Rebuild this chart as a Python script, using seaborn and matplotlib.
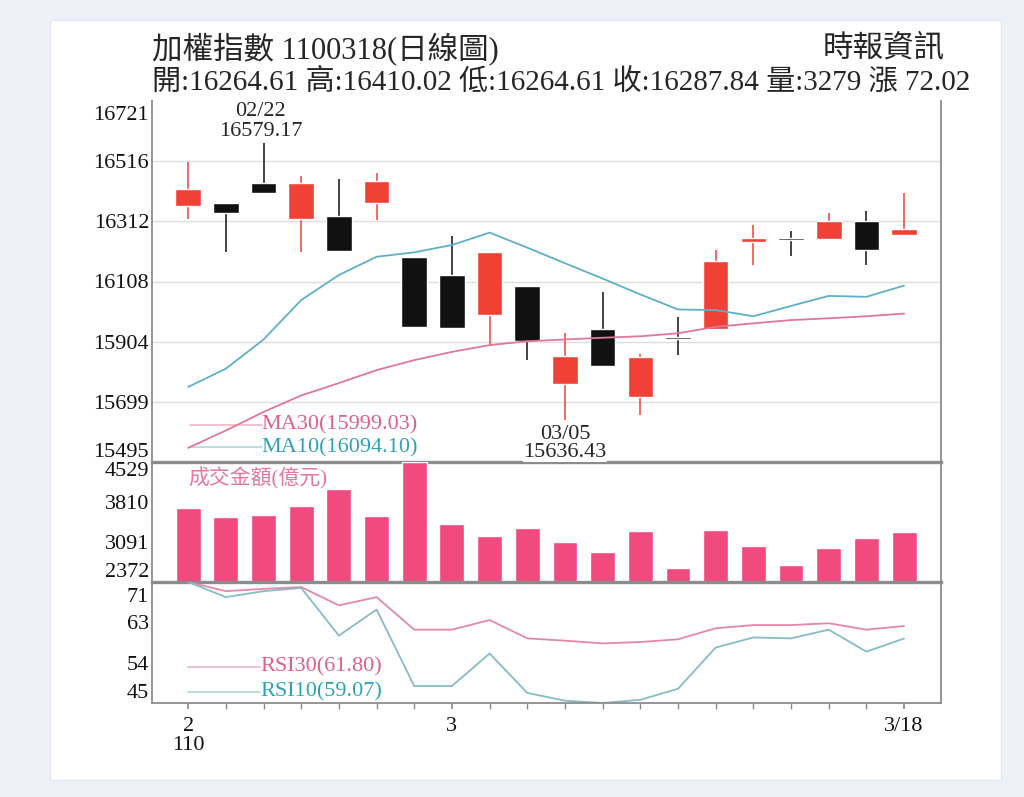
import numpy as np
import matplotlib
matplotlib.use('Agg')
import matplotlib.pyplot as plt
import matplotlib.transforms as mtransforms
import seaborn as sns
from matplotlib.patches import Rectangle

# daily candles, 2021/02/18 .. 2021/03/18 (ROC year 110)
days = list(range(20))
opens = [16366, 16376, 16444, 16321, 16329, 16376, 16190, 16130, 15994, 16093,
         15761, 15945, 15716, 15920, 15946, 16243, 16255, 16253, 16312, 16264.61]
closes = [16423, 16341, 16410, 16442, 16213, 16451, 15952, 15949, 16209, 15905,
          15855, 15820, 15852, 15912, 16179, 16256, 16249, 16312, 16215.82, 16287.84]
highs = [16513, 16376, 16579.17, 16467, 16456, 16476, 16190, 16261, 16209, 16093,
         15934, 16073, 15863, 15988, 16215, 16300, 16281, 16342, 16348, 16410.02]
lows = [16321, 16209, 16410, 16209, 16213, 16317, 15952, 15949, 15892, 15841,
        15636.43, 15820, 15653, 15858, 15946, 16164, 16193, 16253, 16164, 16264.61]

ma10 = [15750, 15812, 15911, 16045, 16130, 16192, 16207, 16232, 16274, 16223,
        16170, 16118, 16064, 16013, 16011, 15990, 16025, 16059, 16056, 16094.10]
ma30 = [15543, 15602, 15665, 15721, 15763, 15807, 15841, 15869, 15892, 15905,
        15911, 15917, 15922, 15932, 15954, 15966, 15977, 15983, 15990, 15999.03]

# turnover (100 million NTD)
volume = [3702, 3540, 3576, 3738, 4044, 3558, 4529, 3415, 3199, 3348,
          3096, 2906, 3283, 2618, 3307, 3024, 2672, 2978, 3168, 3279]

rsi30 = [71.4, 69.4, 69.9, 70.3, 66.3, 68.1, 61.0, 61.0, 63.1, 59.1,
         58.6, 58.0, 58.3, 58.9, 61.3, 62.0, 62.0, 62.4, 61.0, 61.80]
rsi10 = [71.4, 68.1, 69.4, 70.1, 59.7, 65.4, 48.7, 48.7, 55.8, 47.2,
         45.5, 45.0, 45.7, 48.1, 57.1, 59.3, 59.1, 61.0, 56.2, 59.07]

price_labels = ['15495', '15699', '15904', '16108', '16312', '16516', '16721']
vol_labels = ['2372', '3091', '3810', '4529']
rsi_labels = ['45', '54', '63', '71']
x_labels = ['2\n110', '3', '3/18']
x_label_pos = [0, 7, 19]

RED = '#ef4136'
BLACK = '#111111'
PINK = '#e0608a'
TEAL = '#2fa3b6'
GRID = '#8c8c8c'

sns.set_theme(style='white')
plt.rcParams['font.family'] = ['Liberation Serif', 'Noto Sans CJK TC']
plt.rcParams['axes.unicode_minus'] = False

fig = plt.figure(figsize=(10.24, 7.97), dpi=100, facecolor='#edf1f7')
fig.patches.append(Rectangle((50 / 1024, 1 - 780 / 797), 951 / 1024, 760 / 797,
                             transform=fig.transFigure, facecolor='white',
                             edgecolor='#e4e8ef', zorder=-1))


def fy(py):
    return 1 - py / 797


L, R = 152 / 1024, 941 / 1024
ax_p = fig.add_axes([L, fy(462), R - L, fy(101) - fy(462)])
ax_v = fig.add_axes([L, fy(582), R - L, fy(462) - fy(582)])
ax_r = fig.add_axes([L, fy(703), R - L, fy(582) - fy(703)])
ax_v.set_facecolor('none')
ax_r.set_facecolor('none')

xlim = (-0.96, 19.98)

# ---- price panel
pt = np.linspace(15495, 16721, 7)
for y in pt[1:-1]:
    ax_p.axhline(y, color='#dedede', lw=1, zorder=0)

colors = [RED if c >= o else BLACK for o, c in zip(opens, closes)]
body_lo = np.minimum(opens, closes)
body_h = np.maximum(np.abs(np.array(closes) - np.array(opens)), 6)
ax_p.vlines(days, lows, highs, colors=colors, linewidth=1.1, zorder=2)
ax_p.bar(days, body_h, bottom=body_lo, width=0.68, color=colors, zorder=3)

sns.lineplot(x=days, y=ma10, ax=ax_p, color='#5fb0c6', linewidth=1.3, zorder=4)
sns.lineplot(x=days, y=ma30, ax=ax_p, color='#e07896', linewidth=1.3, zorder=4)

ax_p.plot([0.048, 0.139], [0.103, 0.103], transform=ax_p.transAxes, color='#ebb7c6', lw=1.2)
ax_p.plot([0.048, 0.139], [0.042, 0.042], transform=ax_p.transAxes, color='#b5d5dc', lw=1.2)
ax_p.text(0.139, 0.103, f'MA30({ma30[-1]:.2f})', transform=ax_p.transAxes,
          color=PINK, fontsize=16, va='center', ha='left')
ax_p.text(0.139, 0.040, f'MA10({ma10[-1]:.2f})', transform=ax_p.transAxes,
          color=TEAL, fontsize=16, va='center', ha='left')

hi_i = int(np.argmax(highs))
lo_i = int(np.argmin(lows))
ax_p.annotate(f'02/22\n{highs[hi_i]:.2f}', xy=(days[hi_i], highs[hi_i]), xytext=(-2, 1),
              textcoords='offset points', ha='center', va='bottom', fontsize=16,
              linespacing=1.1, annotation_clip=False, zorder=6)
ax_p.annotate(f'03/05\n{lows[lo_i]:.2f}', xy=(days[lo_i], lows[lo_i]), xytext=(0, -3),
              textcoords='offset points', ha='center', va='top', fontsize=16,
              linespacing=0.95, annotation_clip=False, zorder=6,
              bbox=dict(facecolor='white', edgecolor='none', pad=0))

ax_p.set_ylim(15495, 16721)
ax_p.set_yticks(pt)
ax_p.set_yticklabels(price_labels)

# ---- turnover panel
sns.barplot(x=days, y=volume, ax=ax_v, color='#f04a7e', width=0.66, saturation=1,
            native_scale=True, errorbar=None)
ax_v.set_ylim(2372, 4529)
ax_v.set_yticks(np.linspace(2372, 4529, 4))
ax_v.set_yticklabels(vol_labels)
ax_v.text(0.046, 0.86, '成交金額(億元)', transform=ax_v.transAxes, color=PINK,
          fontsize=15, va='center', ha='left', alpha=0.85)

# ---- RSI panel
sns.lineplot(x=days, y=rsi30, ax=ax_r, color='#e28aa4', linewidth=1.3)
sns.lineplot(x=days, y=rsi10, ax=ax_r, color='#86bcc6', linewidth=1.3)
ax_r.plot([0.046, 0.137], [0.30, 0.30], transform=ax_r.transAxes, color='#ebb7c6', lw=1.2)
ax_r.plot([0.046, 0.137], [0.092, 0.092], transform=ax_r.transAxes, color='#b5d5dc', lw=1.2)
ax_r.text(0.137, 0.30, f'RSI30({rsi30[-1]:.2f})', transform=ax_r.transAxes,
          color=PINK, fontsize=16, va='center', ha='left')
ax_r.text(0.137, 0.092, f'RSI10({rsi10[-1]:.2f})', transform=ax_r.transAxes,
          color=TEAL, fontsize=16, va='center', ha='left')
ax_r.set_ylim(45, 71.4)
ax_r.set_yticks(np.linspace(45, 71.4, 4))
ax_r.set_yticklabels(rsi_labels)

# ---- shared styling
top_shift = {ax_p: 5, ax_v: 0, ax_r: 6}
for ax in (ax_p, ax_v, ax_r):
    ax.set_xlim(*xlim)
    ax.set_xlabel('')
    ax.set_ylabel('')
    ax.spines['top'].set_visible(False)
    for s in ('left', 'right', 'bottom'):
        ax.spines[s].set_color(GRID)
        ax.spines[s].set_linewidth(1.3)
    ax.tick_params(axis='y', length=0, pad=2, labelsize=16, colors='#111111')
    labels = ax.get_yticklabels()
    labels[0].set_va('bottom')
    labels[-1].set_va('top')
    shift = mtransforms.ScaledTranslation(0, -top_shift[ax] / 100, fig.dpi_scale_trans)
    labels[-1].set_transform(labels[-1].get_transform() + shift)

ax_p.spines['bottom'].set_linewidth(2.4)
ax_v.spines['bottom'].set_linewidth(2.4)
ax_p.set_xticks([])
ax_v.set_xticks([])
ax_v.set_xticks([], minor=True)

ax_r.set_xticks(x_label_pos)
ax_r.set_xticklabels(x_labels)
ax_r.set_xticks(days, minor=True)
ax_r.tick_params(axis='x', which='both', bottom=True, direction='out', length=4,
                 color=GRID, labelsize=16, pad=6, labelcolor='#111111')
for t in ax_r.get_xticklabels():
    t.set_linespacing(1.0)
    t.set_va('top')

# header
fig.text(L, fy(49), '加權指數 1100318(日線圖)', fontsize=22, va='center', ha='left')
fig.text(945 / 1024, fy(50), '時報資訊', fontsize=22, va='center', ha='right')
head = (f'開:{opens[-1]:.2f} 高:{highs[-1]:.2f} 低:{lows[-1]:.2f} '
        f'收:{closes[-1]:.2f} 量:{volume[-1]} 漲 {closes[-1] - closes[-2]:.2f}')
fig.text(L, fy(82), head, fontsize=21, va='center', ha='left')

fig.savefig('out.png', dpi=100, facecolor=fig.get_facecolor())
